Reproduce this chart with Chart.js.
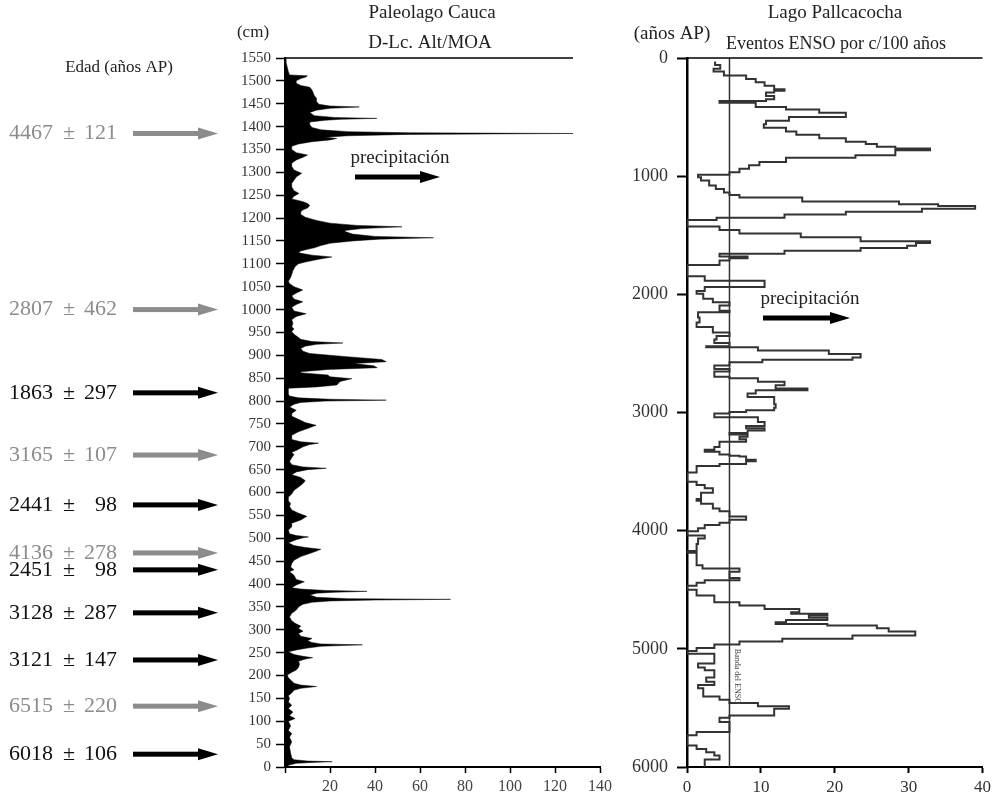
<!DOCTYPE html>
<html lang="es">
<head>
<meta charset="utf-8">
<script src="https://cdn.jsdelivr.net/npm/chart.js@4.4.0/dist/chart.umd.min.js"></script>
<style>
body { margin: 0; background: #fff; }
#wrap { position: relative; width: 995px; height: 797px; }
#cauca { position: absolute; left: 0; top: 0; }
#palca { position: absolute; left: 620px; top: 0; }
</style>
</head>
<body>
<div id="wrap">
<canvas id="cauca" width="620" height="797"></canvas>
<canvas id="palca" width="375" height="797"></canvas>
</div>
<script>
// Paleolago Cauca: [profundidad (cm), D-Lc. Alt/MOA]
const caucaPerfil = [
[0,1.5],[4,1.5],[8,5],[10,12],[11.6,21],[13,10],[16,4],[20,3],[30,2.5],[44,2],[55,3],[65,2],[73,3],[80,1.5],[90,2.5],[100,1.5],[106,4.5],[112,2],[120,3.5],[128,1.5],
[135,3],[142,1.5],[150,2],[156,1.5],[162,3],[168,4],[172,7],[176,14],[179,7],[183,4],[188,3],[195,1.5],[201,1],[207,3],[212,5],[218,6],[225,6.5],[231,6],[236,9],[239,12.3],
[242,8],[246,4],[252,1.5],[256,5],[260,10],[264,16],[267,34.4],[269,16],[272,12],[276,10],[281,12],[286,7],[292,6],[297,8],[303,6],[308,7],[314,4.5],[320,3],[328,2],[336,3],
[343,5],[350,6],[356,8],[360,12],[363,20],[365,40],[366.5,73.6],[368,28],[371,14],[376,11],[380,14],[382,22],[384,36.4],[386,18],[389,7],[392,3],[398,5],[405,8.6],[410,5],[419,4],
[427,2],[431,4],[437,2.5],[445,3],[452,4],[460,7],[467,11],[472,14],[476,15.9],[480,9],[484,4],[490,1.5],[497,5],[501,8],[503,10.4],[506,5],[510,2],[518,1.5],[525,3],[533,3],
[540,7],[548,9.7],[555,6],[562,3],[570,2],[576,2.5],[582,1.5],[590,1.5],[597,3],[605,4],[612,6],[620,8],[626,9],[633,7],[639,3],[645,5],[650,10],[653,18.3],[656,8],[661,3],
[668,2],[676,3],[683,4],[688,3],[692,5],[700,8],[705,11],[708,14.9],[711,7],[716,3],[725,3],[733,6],[740,10],[747,13.8],[753,9],[760,6],[767,3],[773,3],[780,5],[787,2],
[793,4],[797,7],[800,18],[802,45],[804,20],[807,6],[811,2],[815,1.5],[822,1.5],[828,1.5],[831,14],[835,23],[843,24.5],[849,29.7],[853,20],[857,19],[862,6.7],[864,7],[869,19],[873,41],
[877,39.4],[882,30.5],[886,45],[891,43],[897,27.5],[904,11],[909,8],[915,7],[920,9],[924,14],[927,25.7],[930,12],[935,7],[939,6],[946,4],[952,3],[958,4],[962,3],[970,3.5],[978,3],
[985,5],[991,9.4],[997,4],[1005,3],[1011,5],[1017,7.9],[1023,4],[1030,3],[1036,5],[1043,7.9],[1050,4],[1057,2],[1062,1.5],[1070,2.5],[1077,3],[1085,3.5],[1094,4.5],[1100,6],[1104,9],[1110,15],
[1115,20.8],[1119,12],[1124,6],[1128,7],[1132,10],[1135,13],[1140,16],[1145,20],[1150,30],[1154,42],[1157,66],[1160,40],[1165,30],[1170,27],[1173,26.7],[1177,34],[1181,52],[1184,32],[1189,20],[1195,14],
[1202,9],[1208,7],[1214,7],[1218,8],[1222,10],[1228,11],[1232,10],[1236,8],[1242,3],[1248,4],[1254,6.2],[1260,4],[1268,3],[1276,3],[1283,4],[1290,5],[1298,7.4],[1305,4],[1313,3],[1320,3],
[1327,5],[1333,8],[1338,10],[1343,5],[1350,3],[1357,3],[1362,6],[1367,12],[1371,20],[1374,23],[1377,18],[1380,28],[1383,55],[1385,128],[1386.5,55],[1389,28],[1393,16],[1398,12],[1404,11],[1410,11],
[1414,18],[1416,25],[1418,40.8],[1420,22],[1424,13],[1431,11],[1436,14],[1440,20],[1443,33],[1445,20],[1449,15],[1455,14],[1462,14],[1468,13],[1474,12.5],[1480,12],[1486,11],[1490,7],[1495,5],[1500,5],
[1505,7],[1508,9],[1511,10],[1513,2],[1520,1.5],[1530,1],[1540,0.5],[1550,0.5]
];
const caucaLineaSup = 128;

// Lago Pallcacocha: [edad (años AP), eventos ENSO por c/100 años]
const pallcacocha = [
[30,3.8],[60,4.5],[90,3.6],[115,5.0],[149,8.0],[178,9.3],[206,10.5],[235,11.8],[264,13.2],[278,11.8],[292,10.7],[321,11.8],[350,10.7],[364,4.4],[378,9.3],[415,13.4],[436,17.9],[464,21.5],[500,13.8],[530,10.7],
[560,10.4],[590,13.4],[622,14.8],[650,17.9],[679,21.5],[708,24.2],[728,25.7],[751,28.2],[765,32.9],[780,28.2],[822,22.8],[845,13.4],[880,9.8],[908,8.4],[937,7.1],[966,5.75],[989,1.5],[1009,1.9],[1037,3.0],[1080,3.9],
[1109,5.0],[1138,5.75],[1160,7.1],[1180,15.6],[1215,28.7],[1238,34],[1252,39],[1275,31.8],[1301,21.5],[1324,13.2],[1352,4.0],[1372,0],[1427,4.4],[1456,7.1],[1485,15.4],[1516,23.5],[1551,32.9],[1565,31.0],[1588,29.8],[1608,23.5],
[1631,13.2],[1657,4.4],[1680,8.2],[1694,5.75],[1714,4.4],[1751,0],[1846,2.4],[1886,10.5],[1938,2.4],[1972,1.3],[1995,2.2],[2038,3.5],[2066,5.75],[2095,4.4],[2138,5.75],[2152,1.5],[2196,1.7],[2238,1.3],[2276,3.5],[2324,5.75],
[2353,4.0],[2382,3.7],[2411,5.75],[2439,2.6],[2448,9.6],[2476,19.2],[2505,23.5],[2534,22.4],[2554,10.2],[2574,5.75],[2603,3.7],[2631,5.75],[2654,3.7],[2697,5.75],[2711,9.6],[2740,13.2],[2769,12.0],[2797,16.3],[2812,9.3],[2840,8.2],
[2869,11.8],[2898,11.8],[2930,12.0],[2960,11.8],[2981,8.0],[2995,5.75],[3008,3.7],[3040,9.6],[3080,10.5],[3115,8.0],[3133,10.5],[3152,8.2],[3173,5.75],[3187,8.2],[3205,7.1],[3227,8.0],[3248,4.4],[3293,3.7],[3315,2.4],[3333,4.4],
[3355,5.75],[3365,7.1],[3373,8.0],[3400,9.3],[3413,8.0],[3435,4.4],[3453,1.3],[3507,0],[3587,1.3],[3613,2.4],[3640,3.5],[3680,1.9],[3733,1.3],[3747,1.9],[3773,3.5],[3813,4.4],[3835,5.75],[3880,8.0],[3907,5.75],[3933,4.4],
[3952,2.4],[3979,1.5],[4005,0],[4040,2.4],[4067,1.5],[4112,1.3],[4173,0],[4187,1.3],[4293,2.1],[4320,7.1],[4347,5.75],[4400,7.1],[4419,2.4],[4440,1.3],[4467,0],[4500,1.3],[4549,3.7],[4606,7.1],[4634,10.5],[4662,15.2],
[4690,14.1],[4704,19.0],[4718,16.5],[4738,19.0],[4755,13.4],[4775,12.0],[4789,19.0],[4803,25.7],[4825,27.3],[4854,30.9],[4887,22.4],[4915,12.9],[4938,7.1],[4963,3.7],[4992,1.3],[5019,0],[5042,3.7],[5125,1.5],[5158,2.4],[5181,3.7],
[5242,2.6],[5278,3.7],[5306,1.5],[5333,2.2],[5403,4.4],[5431,5.75],[5458,9.6],[5486,13.8],[5508,11.8],[5564,5.75],[5583,4.4],[5619,5.75],[5703,1.3],[5731,0],[5819,1.3],[5847,2.6],[5875,3.7],[5903,4.4],[5936,2.4],[6000,2.4]
];
const ensoBanda = 5.75;

// Dataciones (años AP) y profundidad a la que apuntan
const fechaEdad  = ['4467', '2807', '1863', '3165', '2441', '4136', '2451', '3128', '3121', '6515', '6018'];
const fechaError = ['121', '462', '297', '107', '98', '278', '98', '287', '147', '220', '106'];
const fechaProf  = [1385, 1000, 818, 682, 573, 468, 431, 337, 234, 133, 28];
const fechaGris  = [true, true, false, true, false, true, false, false, false, true, false];

const SERIF = '"Liberation Serif", "Times New Roman", serif';

function flecha(ctx, x0, x1, y, color) {
    ctx.save();
    ctx.fillStyle = color;
    ctx.fillRect(x0, y - 2.5, x1 - x0 - 16, 5);
    ctx.beginPath();
    ctx.moveTo(x1, y);
    ctx.lineTo(x1 - 20, y - 6);
    ctx.lineTo(x1 - 20, y + 6);
    ctx.closePath();
    ctx.fill();
    ctx.restore();
}

function texto(ctx, str, x, y, size, color, align) {
    ctx.font = size + 'px ' + SERIF;
    ctx.fillStyle = color;
    ctx.textAlign = align || 'center';
    ctx.textBaseline = 'middle';
    ctx.fillText(str, x, y);
}

// Decoracion del grafico izquierdo
const caucaDeco = {
    id: 'caucaDeco',
    afterDraw(chart) {
        const ctx = chart.ctx;
        const xs = chart.scales.x, ys = chart.scales.y;
        const area = chart.chartArea;
        ctx.save();
        texto(ctx, 'Paleolago Cauca', 432, 13, 19, '#222');
        texto(ctx, 'D-Lc. Alt/MOA', 430, 43, 19, '#222');
        texto(ctx, '(cm)', 253, 33, 17, '#222');
        texto(ctx, 'Edad (años AP)', 119, 68, 17, '#222');

        // linea superior
        ctx.strokeStyle = '#000';
        ctx.lineWidth = 1.5;
        ctx.beginPath();
        ctx.moveTo(area.left, area.top);
        ctx.lineTo(xs.getPixelForValue(caucaLineaSup), area.top);
        ctx.stroke();

        texto(ctx, 'precipitación', 400, 158, 19, '#222');
        flecha(ctx, 355, 440, 177, '#000');

        for (let i = 0; i < fechaEdad.length; i++) {
            const y = ys.getPixelForValue(fechaProf[i]);
            const col = fechaGris[i] ? '#8c8c8c' : '#111';
            texto(ctx, fechaEdad[i], 9, y, 22, col, 'left');
            texto(ctx, '±', 69, y, 22, col, 'center');
            texto(ctx, fechaError[i], 117, y, 22, col, 'right');
            flecha(ctx, 133, 218, y, fechaGris[i] ? '#8c8c8c' : '#000');
        }
        ctx.restore();
    }
};

// Decoracion del grafico derecho
const palcaDeco = {
    id: 'palcaDeco',
    afterDraw(chart) {
        const ctx = chart.ctx;
        const xs = chart.scales.x, ys = chart.scales.y;
        const area = chart.chartArea;
        ctx.save();
        texto(ctx, 'Lago Pallcacocha', 215, 13, 19, '#222');
        texto(ctx, 'Eventos ENSO por c/100 años', 216, 44, 18, '#222');
        texto(ctx, '(años AP)', 52, 34, 19, '#222');

        ctx.strokeStyle = '#000';
        ctx.lineWidth = 1.5;
        ctx.beginPath();
        ctx.moveTo(area.left, area.top);
        ctx.lineTo(area.right, area.top);
        ctx.stroke();

        texto(ctx, 'precipitación', 190, 299, 19, '#222');
        flecha(ctx, 143, 230, 318, '#000');

        // etiqueta de la banda
        ctx.save();
        ctx.translate(xs.getPixelForValue(ensoBanda) + 8, ys.getPixelForValue(5000));
        ctx.rotate(Math.PI / 2);
        texto(ctx, 'Banda del ENSO', 0, 0, 8, '#444', 'left');
        ctx.restore();
        ctx.restore();
    }
};

new Chart(document.getElementById('cauca'), {
    type: 'line',
    data: {
        datasets: [{
            data: caucaPerfil.map(p => ({ x: p[1], y: p[0] })),
            fill: 'origin',
            backgroundColor: '#000',
            borderColor: '#000',
            borderWidth: 0.5,
            pointRadius: 0,
            tension: 0
        }]
    },
    options: {
        responsive: false,
        animation: false,
        indexAxis: 'y',
        layout: { padding: { left: 210, top: 58, right: 20, bottom: 0 } },
        plugins: { legend: { display: false }, tooltip: { enabled: false } },
        scales: {
            x: {
                type: 'linear', min: 0, max: 140, position: 'bottom',
                ticks: { stepSize: 20, maxRotation: 0, padding: 4, color: '#444',
                    font: { family: SERIF, size: 16 },
                    callback: v => (v === 0 ? '' : String(v)) },
                grid: { drawOnChartArea: false, tickLength: 6, tickColor: '#000', tickWidth: 1.5 },
                border: { color: '#000', width: 2 },
                afterFit: s => { s.height = 30; }
            },
            y: {
                type: 'linear', min: 0, max: 1550,
                ticks: { stepSize: 50, autoSkip: false, padding: 5, color: '#333',
                    font: { family: SERIF, size: 15 },
                    callback: v => String(v) },
                grid: { drawOnChartArea: false, tickLength: 9, tickColor: '#000', tickWidth: 1.5 },
                border: { color: '#000', width: 2 },
                afterFit: s => { s.width = 75; }
            }
        }
    },
    plugins: [caucaDeco]
});

new Chart(document.getElementById('palca'), {
    type: 'line',
    data: {
        datasets: [{
            data: pallcacocha.map(p => ({ x: p[1], y: p[0] })),
            stepped: 'after',
            fill: false,
            borderColor: '#333',
            borderWidth: 2,
            pointRadius: 0
        }, {
            data: [{ x: ensoBanda, y: 0 }, { x: ensoBanda, y: 6000 }],
            fill: false,
            borderColor: '#333',
            borderWidth: 1.5,
            pointRadius: 0
        }]
    },
    options: {
        responsive: false,
        animation: false,
        indexAxis: 'y',
        layout: { padding: { left: 0, top: 58, right: 11, bottom: 0 } },
        plugins: { legend: { display: false }, tooltip: { enabled: false } },
        scales: {
            x: {
                type: 'linear', min: 0, max: 40, position: 'bottom',
                ticks: { stepSize: 10, maxRotation: 0, padding: 4, color: '#333',
                    font: { family: SERIF, size: 17 },
                    callback: v => String(v) },
                grid: { drawOnChartArea: false, tickLength: 6, tickColor: '#000', tickWidth: 2 },
                border: { color: '#000', width: 2 },
                afterFit: s => { s.height = 30; }
            },
            y: {
                type: 'linear', min: 0, max: 6000, reverse: true,
                ticks: { stepSize: 1000, padding: 9, color: '#333',
                    font: { family: SERIF, size: 18 },
                    callback: v => String(v) },
                grid: { drawOnChartArea: false, tickLength: 10, tickColor: '#000', tickWidth: 2 },
                border: { color: '#000', width: 2.5 },
                afterFit: s => { s.width = 67; }
            }
        }
    },
    plugins: [palcaDeco]
});
</script>
</body>
</html>
